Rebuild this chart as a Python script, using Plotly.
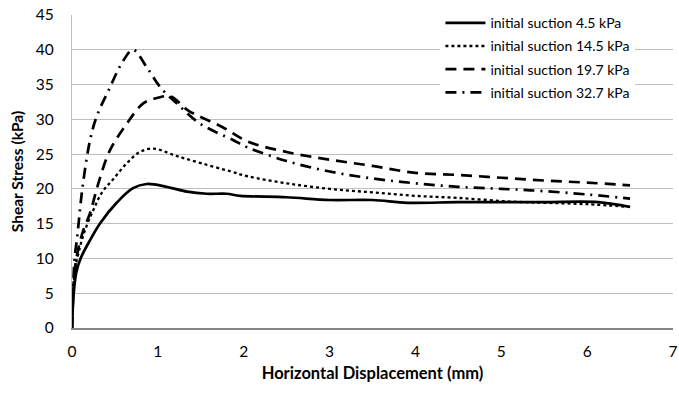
import plotly.graph_objects as go

# Horizontal displacement (mm) and shear stress (kPa) per initial suction
x_45 = [0, 0.02, 0.05, 0.1, 0.2, 0.33, 0.52, 0.71, 0.87, 1.1, 1.34, 1.57, 1.8, 1.96, 2.5, 3.0, 3.5, 3.91, 4.5, 5.07, 5.5, 6.13, 6.5]
y_45 = [0, 5, 8, 10, 12.4, 15.1, 18, 20.1, 20.7, 20.3, 19.6, 19.3, 19.3, 19.0, 18.8, 18.4, 18.4, 18.0, 18.1, 18.1, 18.1, 18.1, 17.4]

x_145 = [0, 0.03, 0.08, 0.15, 0.25, 0.35, 0.48, 0.64, 0.79, 0.95, 1.2, 1.5, 1.85, 2.05, 2.5, 3.0, 3.5, 4.0, 4.5, 5.07, 5.5, 6.0, 6.5]
y_145 = [0, 8, 11, 14, 17, 19.5, 21.4, 23.7, 25.3, 25.8, 24.8, 23.7, 22.5, 21.8, 20.8, 20.0, 19.5, 19.0, 18.7, 18.2, 18.0, 17.8, 17.4]

x_197 = [0, 0.03, 0.07, 0.13, 0.21, 0.3, 0.44, 0.64, 0.83, 1.0, 1.15, 1.35, 1.75, 2.05, 2.5, 3.0, 3.5, 4.0, 4.5, 5.0, 5.5, 6.0, 6.5]
y_197 = [0, 8, 11.2, 14, 16.5, 20.5, 25.5, 29.4, 32.3, 33.1, 33.3, 31.3, 28.9, 26.8, 25.3, 24.2, 23.3, 22.3, 22.0, 21.6, 21.2, 20.9, 20.5]

x_327 = [0, 0.03, 0.06, 0.12, 0.21, 0.29, 0.42, 0.6, 0.71, 0.87, 1.03, 1.22, 1.49, 1.88, 2.04, 2.5, 3.0, 3.5, 4.0, 4.5, 5.0, 5.34, 6.0, 6.5]
y_327 = [0, 10, 13, 20, 27, 30.5, 34, 38.5, 40, 37.5, 34.6, 32.3, 29.4, 27, 26, 24, 22.5, 21.5, 20.8, 20.3, 20.0, 19.8, 19.2, 18.6]

names = ["initial suction 4.5 kPa", "initial suction 14.5 kPa",
         "initial suction 19.7 kPa", "initial suction 32.7 kPa"]

x_ticks = [0, 1, 2, 3, 4, 5, 6, 7]
y_ticks = [0, 5, 10, 15, 20, 25, 30, 35, 40, 45]

FONT = "Lato, Carlito, 'Open Sans', sans-serif"

fig = go.Figure()
series = [
    (x_45, y_45, dict(color="black", width=2.7, dash="solid")),
    (x_145, y_145, dict(color="black", width=2.3, dash="dot")),
    (x_197, y_197, dict(color="black", width=2.7, dash="11px,7px")),
    (x_327, y_327, dict(color="black", width=2.7, dash="11px,6px,2px,6px")),
]
for i, (xs, ys, ln) in enumerate(series):
    fig.add_trace(go.Scatter(x=xs, y=ys, mode="lines", name=names[i], line=ln,
                             line_shape="spline", legendgroup=str(i)))

fig.update_layout(
    width=679, height=394,
    margin=dict(l=72, r=6, t=15, b=66, autoexpand=False),
    paper_bgcolor="white", plot_bgcolor="white",
    font=dict(family=FONT, color="black", size=13),
    showlegend=True,
    legend=dict(x=0.613, y=1.025, xanchor="left", yanchor="top",
                bgcolor="white", font=dict(size=14, family=FONT),
                tracegroupgap=2, itemwidth=40),
    xaxis=dict(range=[0, 7], tickvals=x_ticks, showgrid=False, zeroline=False,
               showline=True, linecolor="#868686", linewidth=1.5, automargin=False,
               ticks="", ticklabelstandoff=9, tickfont=dict(size=15.5),
               title=dict(text="<b>Horizontal Displacement (mm)</b>", font=dict(size=16.5), standoff=8)),
    yaxis=dict(range=[0, 45], tickvals=y_ticks, showgrid=True, gridcolor="#bfbfbf",
               gridwidth=1.3, zeroline=False, showline=True, linecolor="#bfbfbf",
               linewidth=1.3, ticks="", ticklabelstandoff=14, tickfont=dict(size=15.5),
               automargin=False,
               title=dict(text="<b>Shear Stress (kPa)</b>", font=dict(size=15.5), standoff=8)),
)

fig.write_html("out.html")
